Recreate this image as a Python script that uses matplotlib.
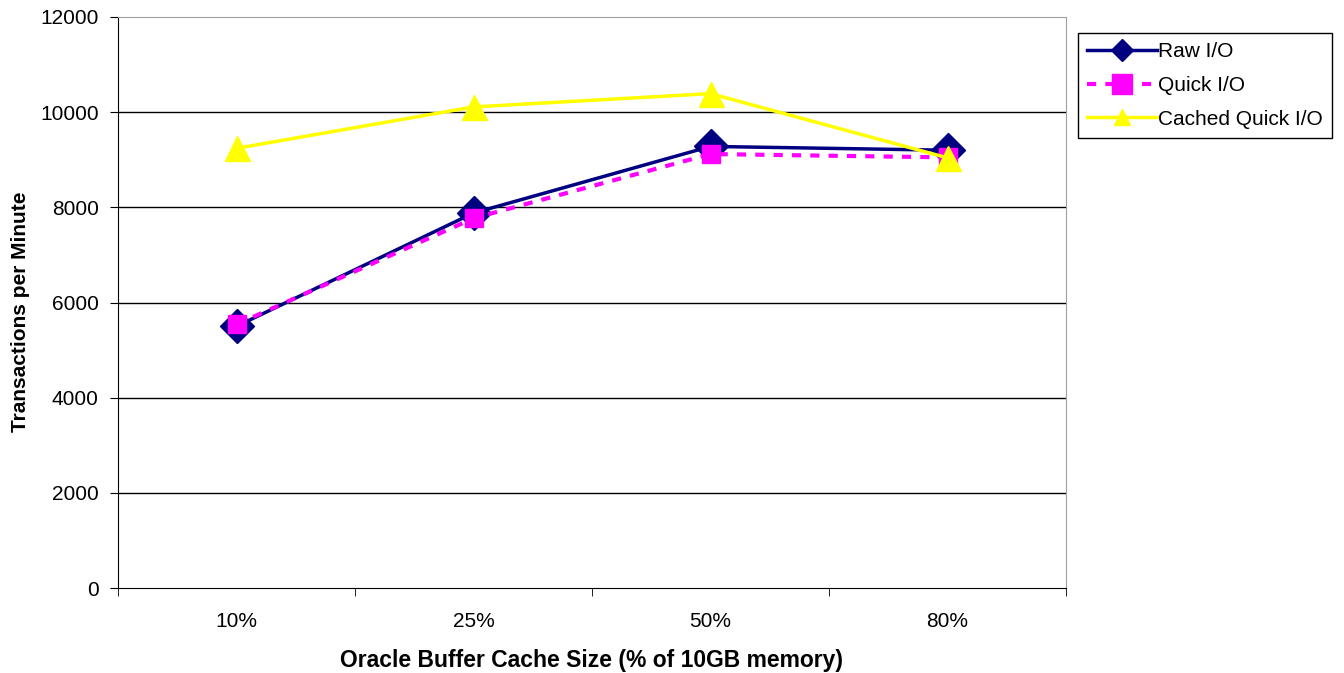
import numpy as np
import matplotlib.pyplot as plt

plt.rcParams['font.family'] = ['Liberation Sans', 'DejaVu Sans']

# datos
categorias = ['10%', '25%', '50%', '80%']
raw_io = [5500, 7880, 9280, 9200]
quick_io = [5540, 7770, 9120, 9050]
cached_quick_io = [9240, 10110, 10390, 9040]

x = np.arange(len(categorias))

fig = plt.figure(figsize=(13.44, 6.73), dpi=100)
ax = fig.add_axes([118/1344, 85/673, (1066-118)/1344, (588-17)/673])

ax.plot(x, raw_io, '-', color='#000080', lw=2.5, marker='D', ms=17,
        mfc='#000080', mec='#000080', label='Raw I/O', zorder=3)
ax.plot(x, quick_io, '--', color='#FF00FF', lw=3, dashes=(2.2, 2.2), marker='s', ms=13,
        mfc='#FF00FF', mec='#FF00FF', label='Quick I/O', zorder=4)
ax.plot(x, cached_quick_io, '-', color='#FFFF00', lw=2.5, marker='^', ms=18,
        mfc='#FFFF00', mec='#FFFF00', label='Cached Quick I/O', zorder=5)

ax.set_xlim(-0.5, len(categorias) - 0.5)
ax.set_ylim(0, 12000)
ax.set_yticks(np.arange(0, 12001, 2000))
ax.set_xticks(x)
ax.set_xticklabels(categorias)
ax.set_xticks(np.arange(-0.5, len(categorias)), minor=True)
ax.tick_params(axis='x', which='major', length=0, pad=17, labelsize=15)
ax.tick_params(axis='x', which='minor', length=6, direction='out', color='black')
ax.tick_params(axis='y', length=6, direction='out', labelsize=15, pad=8)

for y in range(2000, 12000, 2000):
    ax.axhline(y, color='black', lw=1, zorder=1)

for s in ['top', 'right']:
    ax.spines[s].set_color('#A0A0A0')
ax.spines['left'].set_color('black')
ax.spines['bottom'].set_color('black')

ax.set_xlabel('Oracle Buffer Cache Size (% of 10GB memory)', fontsize=16.5, fontweight='bold')
ax.xaxis.set_label_coords(0.5, -(660 - 588) / 571, transform=ax.transAxes)
ax.xaxis.label.set_va('center')
ax.set_ylabel('Transactions per Minute', fontsize=15, fontweight='bold')
ax.yaxis.set_label_coords(-(118 - 21) / 948, (588 - 312) / 571, transform=ax.transAxes)
ax.yaxis.label.set_va('center')

leg = fig.legend(loc='upper left', bbox_to_anchor=(1078/1344, 1 - 33/673), fontsize=15,
                 frameon=True, fancybox=False, edgecolor='black', framealpha=1,
                 handlelength=3.35, handletextpad=0.05, borderpad=0.45, labelspacing=0.7,
                 borderaxespad=0)
leg.get_frame().set_linewidth(1)
for h, m in zip(leg.legend_handles, [11, 15, 12]):
    h.set_markersize(m)

fig.savefig('out.png', dpi=100)
